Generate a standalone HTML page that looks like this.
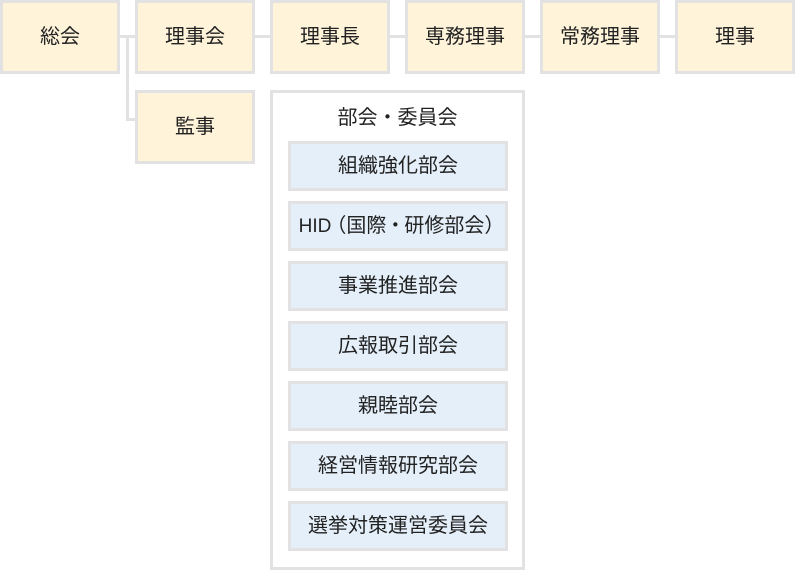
<!DOCTYPE html>
<html><head><meta charset="utf-8">
<style>
*{margin:0;padding:0;box-sizing:border-box}
html,body{width:795px;height:570px;background:#fff;overflow:hidden}
body{position:relative;font-family:"Liberation Sans","Noto Sans CJK JP",sans-serif;color:#222}
.b{position:absolute;display:flex;align-items:center;justify-content:center;font-size:20px;line-height:1;white-space:nowrap}
.t{width:120px;height:74px;top:0;background:#fff3da;border:3px solid #e2e2e2}
.l{position:absolute;background:#e2e2e2}
.c{position:absolute;left:270px;top:90px;width:255px;height:480px;border:3px solid #e2e2e2;background:#fff}
.i{left:288px;width:220px;height:50px;background:#e4eff9;border:3px solid #e2e2e2}
.lat{font-size:19px}
</style></head><body>
<div class="b t" style="left:0">総会</div>
<div class="b t" style="left:135px">理事会</div>
<div class="b t" style="left:270px">理事長</div>
<div class="b t" style="left:405px">専務理事</div>
<div class="b t" style="left:540px">常務理事</div>
<div class="b t" style="left:675px">理事</div>
<div class="b t" style="left:135px;top:90px">監事</div>

<div class="l" style="left:120px;top:35px;width:15px;height:3px"></div>
<div class="l" style="left:126px;top:35px;width:3px;height:86px"></div>
<div class="l" style="left:126px;top:118px;width:9px;height:3px"></div>
<div class="l" style="left:255px;top:35px;width:15px;height:3px"></div>
<div class="l" style="left:390px;top:35px;width:15px;height:3px"></div>
<div class="l" style="left:525px;top:35px;width:15px;height:3px"></div>
<div class="l" style="left:660px;top:35px;width:15px;height:3px"></div>

<div class="c"></div>
<div class="b" style="left:270px;width:255px;top:106px;height:24px">部会・委員会</div>
<div class="b i" style="top:141px">組織強化部会</div>
<div class="b i" style="top:201px"><span class="lat">HID</span><span style="margin-left:-5px">（</span>国際<span style="margin:0 -1px">・</span>研修部会<span style="margin-right:-7px">）</span></div>
<div class="b i" style="top:261px">事業推進部会</div>
<div class="b i" style="top:321px">広報取引部会</div>
<div class="b i" style="top:381px">親睦部会</div>
<div class="b i" style="top:441px">経営情報研究部会</div>
<div class="b i" style="top:501px">選挙対策運営委員会</div>
</body></html>
